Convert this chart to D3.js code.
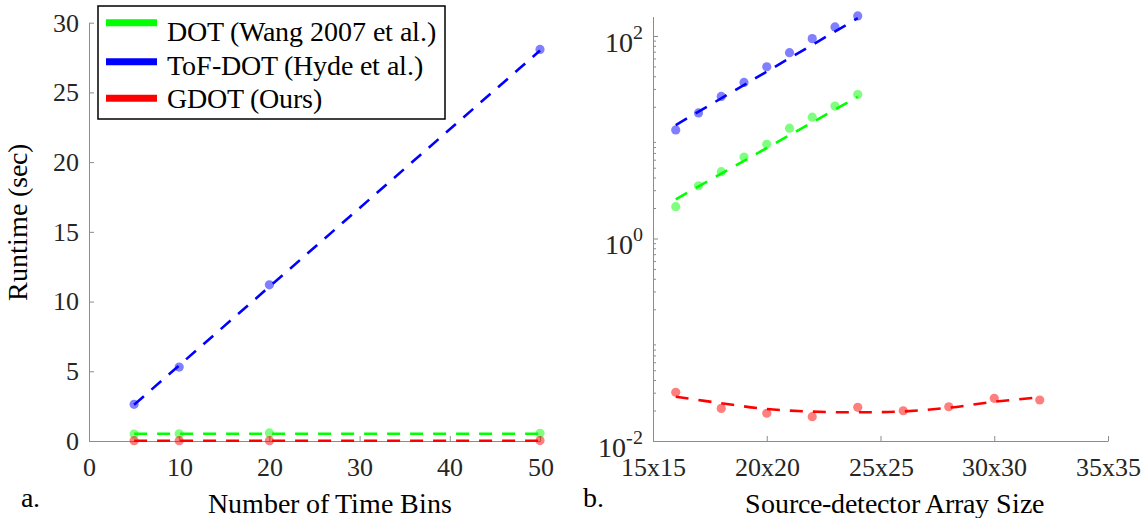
<!DOCTYPE html>
<html>
<head>
<meta charset="utf-8">
<script src="https://cdn.jsdelivr.net/npm/d3@7"></script>
<style>
  @font-face { font-family: "ChartSerif"; src: local("Liberation Serif"), local("LiberationSerif"), local("LiberationSerif-Regular"), local("Times New Roman"); }
</style>
</head>
<body style="margin:0">
<svg id="chart" width="1145" height="518"></svg>
<script>
// ---------------- DATA ----------------
const seriesNames = ["DOT (Wang 2007 et al.)", "ToF-DOT (Hyde et al.)", "GDOT (Ours)"];
const seriesColors = ["#00ff00", "#0000ff", "#ff0000"];

// Panel a: runtime vs number of time bins
const timeBins = [5, 10, 20, 50];
const runtimeDOT_a = [0.50, 0.52, 0.58, 0.55];
const runtimeToF_a = [2.63, 5.30, 11.2, 28.08];
const runtimeGDOT_a = [0.02, 0.02, 0.02, 0.03];
const fitBins_a = [5, 50];
const fitDOT_a = [0.52, 0.52];
const fitToF_a = [2.6, 28.0];
const fitGDOT_a = [0.02, 0.02];
const xTicks_a = [0, 10, 20, 30, 40, 50];
const yTicks_a = [0, 5, 10, 15, 20, 25, 30];

// Panel b: runtime vs source-detector array size (N for NxN)
const arraySizeBG = [16, 17, 18, 19, 20, 21, 22, 23, 24];
const runtimeDOT_b = [2.06, 3.32, 4.57, 6.38, 8.52, 12.3, 15.8, 20.3, 26.4];
const runtimeToF_b = [11.8, 17.4, 25.3, 34.8, 49.7, 68.4, 94.2, 122.8, 157.8];
const arraySizeR = [16, 18, 20, 22, 24, 26, 28, 30, 32];
const runtimeGDOT_b = [0.0303, 0.0210, 0.0188, 0.0174, 0.0215, 0.0199, 0.0218, 0.0264, 0.0254];
const fitSizeBG = [16, 24];
const fitDOT_b = [2.44, 25.1];
const fitToF_b = [13.2, 150];
const fitGDOT_b = [0.0274, 0.0236, 0.0207, 0.0195, 0.0192, 0.0196, 0.0213, 0.0244, 0.0270];
const xTickValues_b = [15, 20, 25, 30, 35];
const xTickLabels_b = ["15x15", "20x20", "25x25", "30x30", "35x35"];
const yTickExponents_b = [-2, 0, 2];

// ---------------- DRAW ----------------
const FONT = "ChartSerif, 'Liberation Serif', serif";
const svg = d3.select("#chart");
const axisColor = "#8c8c8c";
const textColor = "#262626";
const tickFont = 26;
const labelFont = 28;

function styleAxis(g) {
  g.attr("font-family", FONT).attr("font-size", tickFont);
  g.select(".domain").attr("stroke", axisColor).attr("stroke-width", 1);
  g.selectAll(".tick line").attr("stroke", axisColor).attr("stroke-width", 1);
  g.selectAll(".tick text").attr("fill", textColor)
    .attr("font-size", tickFont).attr("font-family", FONT);
}

function addText(x, y, str, size, anchor, transform) {
  const t = svg.append("text")
    .attr("font-family", FONT)
    .attr("font-size", size)
    .attr("fill", "#000")
    .attr("text-anchor", anchor || "start")
    .text(str);
  if (transform) t.attr("transform", transform); else t.attr("x", x).attr("y", y);
  return t;
}

function drawSeries(g, x, y, xs, ys, fx, fy, color, curve) {
  g.append("g").selectAll("circle")
    .data(xs.map((d, i) => [d, ys[i]]))
    .join("circle")
    .attr("cx", d => x(d[0]))
    .attr("cy", d => y(d[1]))
    .attr("r", 4.6)
    .attr("fill", color)
    .attr("fill-opacity", 0.5);
  const line = d3.line().x(d => x(d[0])).y(d => y(d[1])).curve(curve || d3.curveLinear);
  g.append("path")
    .datum(fx.map((d, i) => [d, fy[i]]))
    .attr("d", line)
    .attr("fill", "none")
    .attr("stroke", color)
    .attr("stroke-width", 2.6)
    .attr("stroke-dasharray", "13,10");
}

// ---- Panel a ----
const xA = d3.scaleLinear().domain([0, 50]).range([89, 540]);
const yA = d3.scaleLinear().domain([0, 30]).range([441, 22.7]);

const gxA = svg.append("g").attr("transform", `translate(0,${yA(0)})`)
  .call(d3.axisBottom(xA).tickValues(xTicks_a).tickSizeInner(-5).tickSizeOuter(0).tickPadding(12));
styleAxis(gxA);
gxA.selectAll(".tick text").attr("dy", "0.71em").attr("y", 17);

const gyA = svg.append("g").attr("transform", `translate(${xA(0)},0)`)
  .call(d3.axisLeft(yA).tickValues(yTicks_a).tickSizeInner(-5).tickSizeOuter(0).tickPadding(10));
styleAxis(gyA);

const plotA = svg.append("g");
drawSeries(plotA, xA, yA, timeBins, runtimeDOT_a, fitBins_a, fitDOT_a, seriesColors[0]);
drawSeries(plotA, xA, yA, timeBins, runtimeGDOT_a, fitBins_a, fitGDOT_a, seriesColors[2]);
drawSeries(plotA, xA, yA, timeBins, runtimeToF_a, fitBins_a, fitToF_a, seriesColors[1]);

addText(330, 513, "Number of Time Bins", labelFont, "middle");
addText(0, 0, "Runtime (sec)", labelFont, "middle", "translate(27,222) rotate(-90)");
addText(21, 507, "a.", labelFont, "start");

// Legend
const legend = svg.append("g");
legend.append("rect").attr("x", 98).attr("y", 6).attr("width", 347).attr("height", 113)
  .attr("fill", "#fff").attr("stroke", "#000").attr("stroke-width", 1.5);
const legLineY = [22.7, 61.7, 98.3];
const legTextY = [40.7, 75, 108];
seriesNames.forEach((name, i) => {
  legend.append("line").attr("x1", 106).attr("x2", 157).attr("y1", legLineY[i]).attr("y2", legLineY[i])
    .attr("stroke", seriesColors[i]).attr("stroke-width", 7);
  legend.append("text").attr("x", 167).attr("y", legTextY[i])
    .attr("font-family", FONT).attr("font-size", labelFont)
    .attr("fill", "#000").text(name);
});

// ---- Panel b ----
const xB = d3.scaleLinear().domain([15, 35]).range([653, 1108]);
const yB = d3.scaleLog().domain([0.01, 155]).range([441, 441 - 101.25 * Math.log10(15500)]);

const gxB = svg.append("g").attr("transform", `translate(0,${yB(0.01)})`)
  .call(d3.axisBottom(xB).tickValues(xTickValues_b).tickFormat((d, i) => xTickLabels_b[i])
    .tickSizeInner(-5).tickSizeOuter(0).tickPadding(12));
styleAxis(gxB);
gxB.selectAll(".tick text").attr("dy", "0.71em").attr("y", 17);

const minorVals = [];
for (let e = -2; e <= 2; e++) {
  for (let m = 2; m <= 9; m++) {
    const v = m * Math.pow(10, e);
    if (v < 155) minorVals.push(v);
  }
}
const gyBminor = svg.append("g").attr("transform", `translate(${xB(15)},0)`)
  .call(d3.axisLeft(yB).tickValues(minorVals).tickFormat("").tickSizeInner(-3).tickSizeOuter(0));
styleAxis(gyBminor);

const majorVals = yTickExponents_b.map(e => Math.pow(10, e));
const gyB = svg.append("g").attr("transform", `translate(${xB(15)},0)`)
  .call(d3.axisLeft(yB).tickValues(majorVals).tickFormat("").tickSizeInner(-5).tickSizeOuter(0));
styleAxis(gyB);
gyB.selectAll(".tick").each(function(d, i) {
  const t = d3.select(this).append("text")
    .attr("font-family", FONT)
    .attr("fill", textColor).attr("text-anchor", "end").attr("x", -10).attr("y", 15);
  t.append("tspan").attr("font-size", 28).text("10");
  t.append("tspan").attr("font-size", 20).attr("dy", -13).text(String(yTickExponents_b[i]));
});

const plotB = svg.append("g");
drawSeries(plotB, xB, yB, arraySizeBG, runtimeDOT_b, fitSizeBG, fitDOT_b, seriesColors[0]);
drawSeries(plotB, xB, yB, arraySizeBG, runtimeToF_b, fitSizeBG, fitToF_b, seriesColors[1]);
drawSeries(plotB, xB, yB, arraySizeR, runtimeGDOT_b, arraySizeR, fitGDOT_b, seriesColors[2], d3.curveCatmullRom);

addText(894, 513, "Source-detector Array Size", labelFont, "middle");
addText(583, 507, "b.", labelFont, "start");
</script>
</body>
</html>
